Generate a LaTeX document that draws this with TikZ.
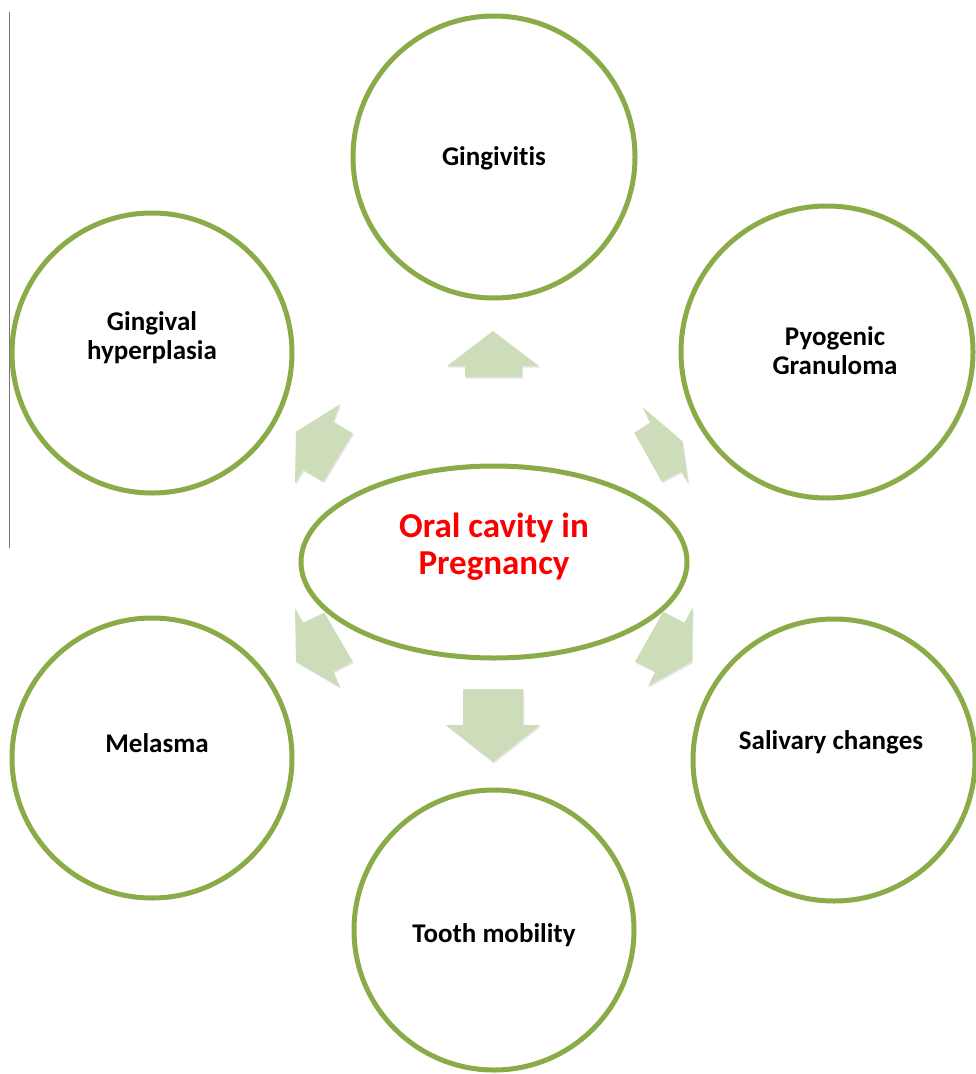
\documentclass[tikz,border=0pt]{standalone}
\usepackage{fontspec}
\setmainfont{Carlito}[Ligatures={NoCommon,NoRare,NoDiscretionary}]
\usetikzlibrary{shapes.geometric,shadows}
\definecolor{ringgreen}{RGB}{138,172,72}
\definecolor{arrowfill}{RGB}{206,221,185}
\definecolor{centerred}{RGB}{250,0,0}
\tikzset{
  ring/.style={circle, draw=ringgreen, line width=5pt, fill=white,
    minimum size=#1, inner sep=0pt,
    drop shadow={opacity=0.25, shadow xshift=1pt, shadow yshift=-2pt}},
  hub/.style={ellipse, draw=ringgreen, line width=5pt, fill=white,
    minimum width=386pt, minimum height=192pt, inner sep=0pt,
    drop shadow={opacity=0.25, shadow xshift=1pt, shadow yshift=-2pt}},
  lbl/.style={align=center, font=\bfseries\fontsize{27}{29}\selectfont, text=black},
  hublbl/.style={align=center, font=\bfseries\fontsize{35}{37}\selectfont, text=centerred},
  blockarrow/.style={fill=arrowfill, draw=none,
    drop shadow={opacity=0.2, shadow xshift=1pt, shadow yshift=-1.5pt}}
}
\begin{document}
\begin{tikzpicture}[x=1pt,y=-1pt]
\useasboundingbox (0,0) rectangle (976,1074);
% left margin rule
\coordinate (ruletop) at (9,12);
\coordinate (rulebot) at (9,548);
\draw[line width=1pt, black!55] (ruletop) -- (rulebot);

% circles
\node[ring=282pt] (gv) at (494,157) {};
\node[ring=280pt] (gh) at (152,353) {};
\node[ring=292pt] (pg) at (827,352) {};
\node[ring=280pt] (me) at (152,758) {};
\node[ring=282pt] (sc) at (834,760) {};
\node[ring=280pt] (tm) at (494,930) {};
\node[hub] (oc) at (494,562) {};

% labels
\node[lbl] (gvt) at (494,158) {Gingivitis};
\node[lbl] (ght) at (152,338) {Gingival\\hyperplasia};
\node[lbl] (pgt) at (835,351) {Pyogenic\\Granuloma};
\node[lbl] (met) at (157,743) {Melasma};
\node[lbl] (sct) at (831,742) {Salivary changes};
\node[lbl] (tmt) at (494,935) {Tooth mobility};
\node[hublbl] (oct) at (494,547) {Oral cavity in\\Pregnancy};

% block arrows
\fill[blockarrow] (493,331) -- (539,366) -- (522,366) -- (522,377) -- (465,377) -- (465,366) -- (447,366) -- cycle;
\fill[blockarrow] (463,689) -- (523,689) -- (523,725) -- (540,725) -- (493,762) -- (446,725) -- (463,725) -- cycle;
\fill[blockarrow] (340,404.3) -- (333.3,421.7) -- (352.7,433.3) -- (323.3,481.7) -- (303.3,470) -- (295,483.3) -- (296,431.7) -- cycle;
\fill[blockarrow] (642.7,407.3) -- (650,422.7) -- (634.3,432.7) -- (661.7,481.7) -- (681,471.7) -- (688.3,483.3) -- (682.3,441) -- cycle;
\fill[blockarrow] (295,608.3) -- (303.3,622.7) -- (324.3,612.7) -- (352.7,661.7) -- (333.3,671.7) -- (340,687.3) -- (296,661.7) -- cycle;
\fill[blockarrow] (692.7,607.3) -- (684.3,622.7) -- (663.3,611.7) -- (635,661.7) -- (655,671.7) -- (648.3,686) -- (691.7,661.7) -- cycle;
\end{tikzpicture}
\end{document}
